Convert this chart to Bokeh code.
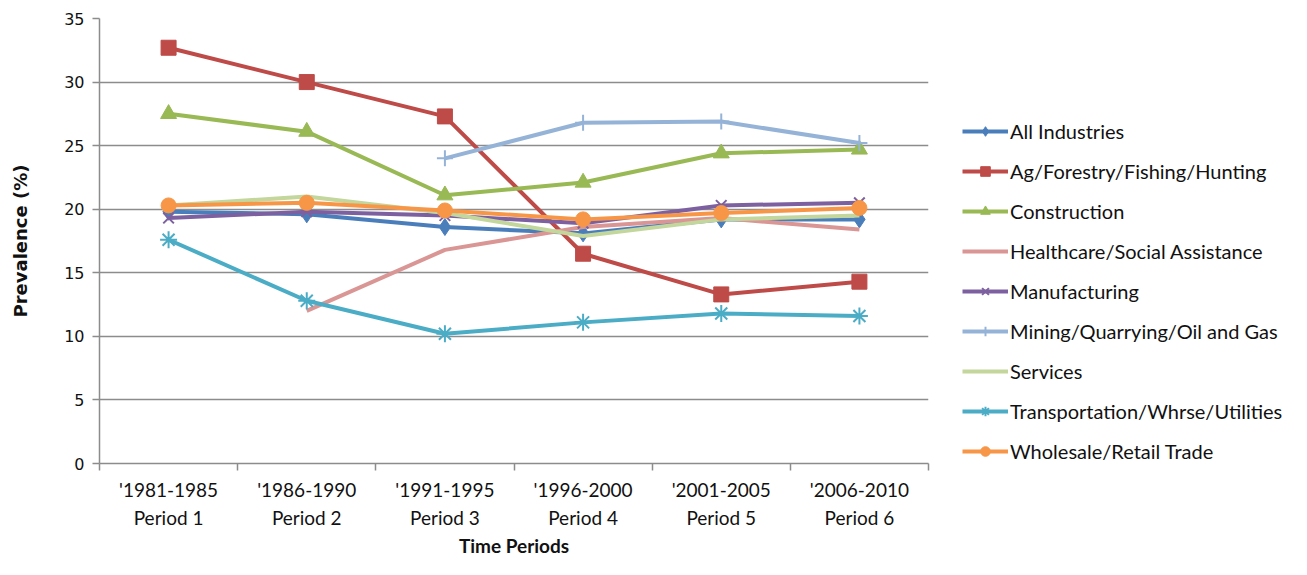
import numpy as np
from bokeh.plotting import figure
from bokeh.layouts import row
from bokeh.models import Range1d, LinearAxis, FixedTicker, Legend, LegendItem, Grid
from bokeh.embed import file_html
from bokeh.resources import INLINE

nan = np.nan
periods = [1, 2, 3, 4, 5, 6]
year_labels = ["'1981-1985", "'1986-1990", "'1991-1995", "'1996-2000", "'2001-2005", "'2006-2010"]
period_labels = ["Period 1", "Period 2", "Period 3", "Period 4", "Period 5", "Period 6"]
y_ticks = [0, 5, 10, 15, 20, 25, 30, 35]

all_industries = [19.8, 19.6, 18.6, 18.1, 19.2, 19.2]
ag_forestry = [32.7, 30.0, 27.3, 16.5, 13.3, 14.3]
construction = [27.5, 26.1, 21.1, 22.1, 24.4, 24.7]
healthcare = [nan, 12.0, 16.8, 18.6, 19.3, 18.4]
manufacturing = [19.3, 19.8, 19.5, 18.9, 20.3, 20.5]
mining = [nan, nan, 24.0, 26.8, 26.9, 25.2]
services = [20.3, 21.0, 19.7, 17.9, 19.2, 19.5]
transportation = [17.6, 12.8, 10.2, 11.1, 11.8, 11.6]
wholesale = [20.3, 20.5, 19.9, 19.2, 19.7, 20.1]

series = [
    ("All Industries", all_industries, "#4A7EBB", "diamond", 17),
    ("Ag/Forestry/Fishing/Hunting", ag_forestry, "#BE4B48", "square", 15),
    ("Construction", construction, "#98B954", "triangle", 16),
    ("Healthcare/Social Assistance", healthcare, "#D99694", None, 0),
    ("Manufacturing", manufacturing, "#7D60A0", "x", 15),
    ("Mining/Quarrying/Oil and Gas", mining, "#95B3D7", "cross", 16),
    ("Services", services, "#C3D69B", None, 0),
    ("Transportation/Whrse/Utilities", transportation, "#4BACC6", "asterisk", 17),
    ("Wholesale/Retail Trade", wholesale, "#F79646", "circle", 15),
]

text_color = "#111111"
grid_color = "#8C8C8C"

p = figure(width=940, height=559, output_backend="svg", toolbar_location=None,
           x_range=Range1d(0.5, 6.5), y_range=Range1d(0, 35),
           x_axis_location=None, y_axis_location=None,
           min_border_left=99, min_border_right=12, min_border_top=18, min_border_bottom=95)
p.outline_line_color = None
p.background_fill_color = "white"
p.border_fill_color = "white"
p.center = [r for r in p.center if not isinstance(r, Grid)]

yaxis = LinearAxis(ticker=FixedTicker(ticks=y_ticks, minor_ticks=[]))
yaxis.axis_line_color = grid_color
yaxis.axis_line_width = 1.5
yaxis.major_tick_line_color = grid_color
yaxis.major_tick_line_width = 1.5
yaxis.major_tick_out = 7
yaxis.major_tick_in = 0
yaxis.minor_tick_line_color = None
yaxis.major_label_text_font = "DejaVu Sans"
yaxis.major_label_text_font_size = "16px"
yaxis.major_label_text_color = text_color
yaxis.major_label_standoff = 8
yaxis.axis_label = "Prevalence (%)"
yaxis.axis_label_text_font = "DejaVu Sans"
yaxis.axis_label_text_font_style = "bold"
yaxis.axis_label_text_font_size = "18px"
yaxis.axis_label_text_color = text_color
yaxis.axis_label_standoff = 30
p.add_layout(yaxis, "left")

p.add_layout(Grid(dimension=1, ticker=yaxis.ticker, grid_line_color=grid_color, grid_line_width=1.5))

xaxis1 = LinearAxis(ticker=FixedTicker(ticks=periods, minor_ticks=[0.5, 1.5, 2.5, 3.5, 4.5, 5.5, 6.5]))
xaxis1.major_label_overrides = {k: v for k, v in zip(periods, year_labels)}
xaxis1.axis_line_color = grid_color
xaxis1.axis_line_width = 1.5
xaxis1.major_tick_line_color = None
xaxis1.major_tick_out = 0
xaxis1.major_tick_in = 0
xaxis1.minor_tick_line_color = grid_color
xaxis1.minor_tick_line_width = 1.5
xaxis1.minor_tick_out = 7
xaxis1.minor_tick_in = 0
xaxis1.major_label_text_font = "Lato"
xaxis1.major_label_text_font_size = "19px"
xaxis1.major_label_text_color = text_color
xaxis1.major_label_standoff = 7
p.add_layout(xaxis1, "below")

xaxis2 = LinearAxis(ticker=FixedTicker(ticks=periods, minor_ticks=[]))
xaxis2.major_label_overrides = {k: v for k, v in zip(periods, period_labels)}
xaxis2.axis_line_color = None
xaxis2.major_tick_line_color = None
xaxis2.minor_tick_line_color = None
xaxis2.major_tick_out = 0
xaxis2.major_tick_in = 0
xaxis2.major_label_text_font = "Lato"
xaxis2.major_label_text_font_size = "19px"
xaxis2.major_label_text_color = text_color
xaxis2.major_label_standoff = 2
xaxis2.axis_label = "Time Periods"
xaxis2.axis_label_text_font = "Lato"
xaxis2.axis_label_text_font_style = "bold"
xaxis2.axis_label_text_font_size = "19px"
xaxis2.axis_label_text_color = text_color
xaxis2.axis_label_standoff = 2
p.add_layout(xaxis2, "below")

# legend panel (separate figure to the right of the chart; its glyph renderers are hidden)
p2 = figure(width=351, height=559, output_backend="svg", toolbar_location=None,
            x_range=Range1d(0.5, 6.5), y_range=Range1d(0, 35),
            x_axis_location=None, y_axis_location=None, min_border=0)
p2.outline_line_color = None
p2.background_fill_color = "white"
p2.border_fill_color = "white"
p2.center = [r for r in p2.center if not isinstance(r, Grid)]

items = []
for name, vals, color, marker, size in series:
    p.line(periods, vals, line_color=color, line_width=4, line_join="round")
    rs = [p2.line(periods, vals, line_color=color, line_width=4, visible=False)]
    if marker is not None:
        lw = 2 if marker in ("x", "cross", "asterisk") else 1
        p.scatter(periods, vals, marker=marker, size=size, fill_color=color,
                  line_color=color, line_width=lw)
        rs.append(p2.scatter(periods, vals, marker=marker, size=size, fill_color=color,
                             line_color=color, line_width=lw, visible=False))
    items.append(LegendItem(label=name, renderers=rs))

legend = Legend(items=items, location=(22, 0))
legend.padding = 0
legend.margin = 0
legend.spacing = 16
legend.glyph_width = 46
legend.glyph_height = 24
legend.label_height = 24
legend.label_standoff = 2
legend.label_text_font = "Lato"
legend.label_text_font_size = "20px"
legend.label_text_color = text_color
legend.border_line_color = None
legend.background_fill_alpha = 0
legend.inactive_fill_alpha = 0
p2.add_layout(legend, "center")

layout = row(p, p2)
open("out.html", "w").write(file_html(layout, INLINE))
